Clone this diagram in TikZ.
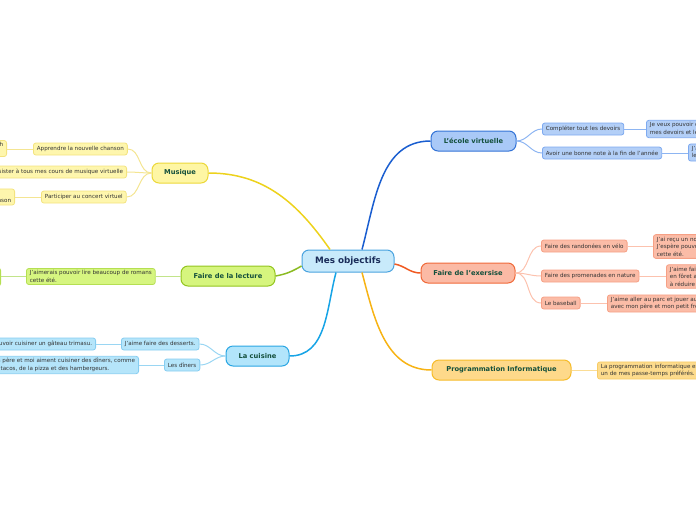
\documentclass[tikz,border=0pt]{standalone}
\usepackage{fontspec}
\setmainfont{DejaVu Sans}
\definecolor{ltext}{HTML}{333333}
\definecolor{btext}{HTML}{14503C}
\definecolor{rtext}{HTML}{1A2D5A}
% root
\definecolor{rootfill}{HTML}{C8EAFB}\definecolor{rootdraw}{HTML}{4AA3DF}
% ecole (blue)
\definecolor{ebf}{HTML}{A9C9F7}\definecolor{ebd}{HTML}{3373D6}\definecolor{ebl}{HTML}{1A5ED0}
\definecolor{elf}{HTML}{B3CFF7}\definecolor{eld}{HTML}{7EAAF0}\definecolor{elc}{HTML}{8DB5F2}
% exersise (orange-red)
\definecolor{xbf}{HTML}{FBBAA5}\definecolor{xbd}{HTML}{F06A3A}\definecolor{xbl}{HTML}{F05A22}
\definecolor{xlf}{HTML}{FBBCA7}\definecolor{xld}{HTML}{F6A085}\definecolor{xlc}{HTML}{FCC2AE}
% programmation (orange)
\definecolor{pbf}{HTML}{FED98A}\definecolor{pbd}{HTML}{F6BC2A}\definecolor{pbl}{HTML}{F7B314}
\definecolor{plf}{HTML}{FDDB8C}\definecolor{pld}{HTML}{F7CC66}\definecolor{plc}{HTML}{FBDD95}
% musique (yellow)
\definecolor{mbf}{HTML}{FEF6A4}\definecolor{mbd}{HTML}{ECD83A}\definecolor{mbl}{HTML}{EDD21C}
\definecolor{mlf}{HTML}{FEF6AD}\definecolor{mld}{HTML}{F3E37F}\definecolor{mlc}{HTML}{F4E592}
% lecture (green)
\definecolor{lbf}{HTML}{D6F57E}\definecolor{lbd}{HTML}{93C51F}\definecolor{lbl}{HTML}{8BBB22}
\definecolor{llf}{HTML}{D6F580}\definecolor{lld}{HTML}{B5DF52}\definecolor{llc}{HTML}{C2E48A}
% cuisine (light blue)
\definecolor{cbf}{HTML}{B2E5FB}\definecolor{cbd}{HTML}{2AA6E3}\definecolor{cbl}{HTML}{17A4E6}
\definecolor{clf}{HTML}{B5E5FA}\definecolor{cld}{HTML}{86CDF1}\definecolor{clc}{HTML}{9AD6F3}
\begin{document}
\begin{tikzpicture}[x=1pt,y=-1pt,
  rootbox/.style={draw=rootdraw, fill=rootfill, line width=1pt, rounded corners=7pt,
    minimum width=92pt, minimum height=22pt, inner sep=0pt, text=rtext,
    font=\fontsize{8.8}{10}\selectfont\bfseries},
  branchbox/.style={line width=1pt, rounded corners=7pt, minimum height=20pt,
    inner sep=0pt, text=btext, font=\fontsize{6.7}{8}\selectfont\bfseries},
  leafbox/.style={line width=0.8pt, rounded corners=2.5pt, minimum height=12pt,
    inner xsep=3.5pt, inner ysep=2.1pt, align=left, text=ltext,
    font=\fontsize{5.6}{7.5}\selectfont},
  mainline/.style={line width=1.5pt},
  subline/.style={line width=1pt}]
\useasboundingbox (0,0) rectangle (696,520);
\clip (0,0) rectangle (696,520);

% ---------- root ----------
\node[rootbox] (root) at (348,261) {Mes objectifs};

% ---------- branches ----------
\node[branchbox, draw=ebd, fill=ebf, minimum width=85pt] (eco) at (473.5,141) {L'école virtuelle};
\node[branchbox, draw=xbd, fill=xbf, minimum width=94pt] (exe) at (468,273) {Faire de l'exersise};
\node[branchbox, draw=pbd, fill=pbf, minimum width=139pt] (prog) at (501.5,370) {Programmation Informatique};
\node[branchbox, draw=mbd, fill=mbf, minimum width=56pt] (mus) at (180,173) {Musique};
\node[branchbox, draw=lbd, fill=lbf, minimum width=94pt] (lec) at (228,276) {Faire de la lecture};
\node[branchbox, draw=cbd, fill=cbf, minimum width=63pt] (cui) at (257.5,356) {La cuisine};

% ---------- main connectors ----------
\draw[mainline, ebl] ([xshift=14pt]root.north) to[out=75,in=180] (eco.west);
\draw[mainline, xbl] ([yshift=-3pt]root.east) to[out=-10,in=180] (exe.west);
\draw[mainline, pbl] ([xshift=14pt]root.south) to[out=-75,in=180] (prog.west);
\draw[mainline, mbl] (mus.east) to[out=0,in=125] ([xshift=-18pt]root.north);
\draw[mainline, lbl] (lec.east) to[out=10,in=210] ([yshift=-5pt]root.west);
\draw[mainline, cbl] (cui.east) to[out=0,in=-105] ([xshift=-12pt]root.south);

% ---------- Musique ----------
\node[leafbox, draw=mld, fill=mlf, anchor=west] (m1) at (33,149) {Apprendre la nouvelle chanson};
\node[leafbox, draw=mld, fill=mlf, anchor=east] (m2) at (127,172) {Assister à tous mes cours de musique virtuelle};
\node[leafbox, draw=mld, fill=mlf, anchor=west] (m3) at (41,197) {Participer au concert virtuel};
\node[leafbox, draw=mld, fill=mlf, anchor=east] (m1a) at (7,148.5) {J'aimerais apprendre une chanson de Bach\\avec ma flûte.};
\node[leafbox, draw=mld, fill=mlf, anchor=east] (m3a) at (15,197) {J'aimerais jouer\\au concert la nouvelle chanson};
\foreach \t in {m1,m2,m3}
  \draw[subline, mlc] (mus.west) to[out=180,in=0] (\t.east);
\draw[subline, mlc] (m1.west) -- (m1a.east |- m1.west);
\draw[subline, mlc] (m3.west) -- (m3a.east |- m3.west);

% ---------- Lecture ----------
\node[leafbox, draw=lld, fill=llf, anchor=west] (l1) at (26,276.5) {J'aimerais pouvoir lire beaucoup de romans\\cette été.};
\node[leafbox, draw=lld, fill=llf, anchor=east, minimum width=40pt, minimum height=18pt] (l1a) at (1,277) {};
\draw[subline, llc] (lec.west) -- (l1.east |- lec.west);
\draw[subline, llc] (l1.west) -- (l1a.east |- l1.west);

% ---------- Cuisine ----------
\node[leafbox, draw=cld, fill=clf, anchor=west] (c1) at (121,344) {J'aime faire des desserts.};
\node[leafbox, draw=cld, fill=clf, anchor=west] (c2) at (164,365) {Les dîners};
\node[leafbox, draw=cld, fill=clf, anchor=east] (c1a) at (96,344) {J'aimerais pouvoir cuisiner un gâteau trimasu.};
\node[leafbox, draw=cld, fill=clf, anchor=east] (c2a) at (139,365) {Mon père et moi aiment cuisiner des dîners, comme\\des tacos, de la pizza et des hambergeurs.};
\foreach \t in {c1,c2}
  \draw[subline, clc] (cui.west) to[out=180,in=0] (\t.east);
\draw[subline, clc] (c1.west) -- (c1a.east);
\draw[subline, clc] (c2.west) -- (c2a.east |- c2.west);

% ---------- L'école virtuelle ----------
\node[leafbox, draw=eld, fill=elf, anchor=west] (e1) at (542,129) {Compléter tout les devoirs};
\node[leafbox, draw=eld, fill=elf, anchor=west] (e2) at (542,153) {Avoir une bonne note à la fin de l'année};
\node[leafbox, draw=eld, fill=elf, anchor=west] (e1a) at (646,129) {Je veux pouvoir compléter tous\\mes devoirs et les remettre à temps.};
\node[leafbox, draw=eld, fill=elf, anchor=west] (e2a) at (688,152.5) {J'aimerais avoir une bonne note\\le plus possible.};
\foreach \t in {e1,e2}
  \draw[subline, elc] (eco.east) to[out=0,in=180] (\t.west);
\draw[subline, elc] (e1.east) -- (e1a.west |- e1.east);
\draw[subline, elc] (e2.east) -- (e2a.west |- e2.east);

% ---------- Faire de l'exersise ----------
\node[leafbox, draw=xld, fill=xlf, anchor=west] (x1) at (541,246) {Faire des randonées en vélo};
\node[leafbox, draw=xld, fill=xlf, anchor=west] (x2) at (541,276) {Faire des promenades en nature};
\node[leafbox, draw=xld, fill=xlf, anchor=west] (x3) at (541,303) {Le baseball};
\node[leafbox, draw=xld, fill=xlf, anchor=west] (x1a) at (653,246.5) {J'ai reçu un nouveau vélo.\\J'espère pouvoir faire des randonnées\\cette été.};
\node[leafbox, draw=xld, fill=xlf, anchor=west] (x2a) at (666,276.5) {J'aime faire des promenades\\en fôret avec ma famille pour aider\\à réduire le stress.};
\node[leafbox, draw=xld, fill=xlf, anchor=west] (x3a) at (607,303.5) {J'aime aller au parc et jouer au baseball\\avec mon père et mon petit frère.};
\foreach \t in {x1,x2,x3}
  \draw[subline, xlc] (exe.east) to[out=0,in=180] (\t.west);
\draw[subline, xlc] (x1.east) -- (x1a.west |- x1.east);
\draw[subline, xlc] (x2.east) -- (x2a.west |- x2.east);
\draw[subline, xlc] (x3.east) -- (x3a.west |- x3.east);

% ---------- Programmation ----------
\node[leafbox, draw=pld, fill=plf, anchor=west] (p1a) at (597,370.5) {La programmation informatique est\\un de mes passe-temps préférés.};
\draw[subline, plc] (prog.east) -- (p1a.west |- prog.east);
\end{tikzpicture}
\end{document}
